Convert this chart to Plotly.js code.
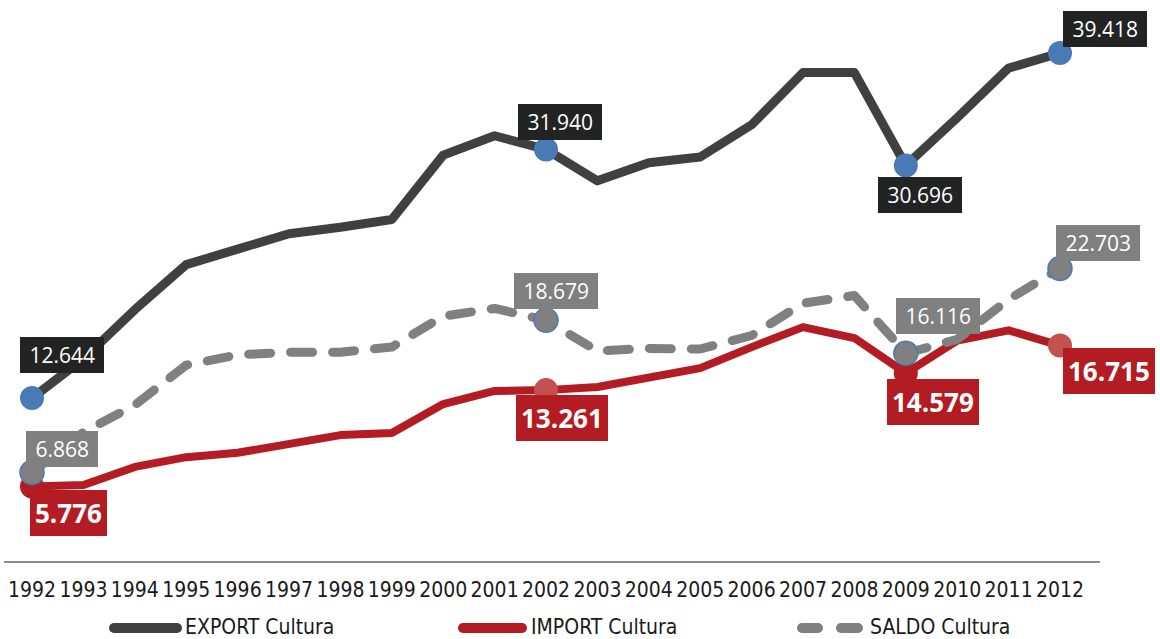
<!DOCTYPE html>
<html>
<head>
<meta charset="utf-8">
<script src="https://cdn.plot.ly/plotly-3.0.1.min.js"></script>
<style>
  html, body { margin: 0; padding: 0; background: #fff; }
  #chart { width: 1160px; height: 639px; }
  .js-line { stroke-linecap: round; stroke-linejoin: round; }
  .shapelayer path { stroke-linecap: round; }
</style>
</head>
<body>
<div id="chart"></div>
<script>
// ---- data ----
const years = [1992, 1993, 1994, 1995, 1996, 1997, 1998, 1999, 2000, 2001, 2002,
               2003, 2004, 2005, 2006, 2007, 2008, 2009, 2010, 2011, 2012];
const exportCultura = [12.644, 15.7, 19.5, 23.0, 24.2, 25.4, 25.9, 26.5, 31.5, 33.0, 31.940,
                       29.5, 30.9, 31.35, 33.85, 37.9, 37.9, 30.696, 34.4, 38.25, 39.418];
const importCultura = [5.776, 5.9, 7.3, 8.06, 8.4, 9.07, 9.77, 9.93, 12.18, 13.2, 13.261,
                       13.5, 14.25, 14.97, 16.6, 18.15, 17.3, 14.579, 17.1, 17.9, 16.715];
const saldoCultura = [6.868, 10.0, 12.1, 15.2, 16.0, 16.2, 16.2, 16.6, 19.0, 19.6, 18.679,
                      16.3, 16.5, 16.45, 17.5, 20.0, 20.6, 16.116, 17.2, 20.3, 22.703];
const labelYears = [1992, 2002, 2009, 2012];
const seriesNames = ['EXPORT Cultura', 'IMPORT Cultura', 'SALDO Cultura'];

// ---- geometry helpers (style) ----
const M = {l: 4, r: 60, t: 5, b: 78};
const W = 1160, H = 639;
const pw = W - M.l - M.r, ph = H - M.t - M.b;
const px2x = px => (px - M.l) / pw;
const py2y = py => (H - M.b - py) / ph;

const markerSizes = years.map(y => labelYears.includes(y) ? 24 : 0);
const importMarkerColors = years.map(y => (y === 2002 || y === 2012) ? '#c1524f' : '#b31c23');

const traces = [
  {
    x: years, y: exportCultura, name: seriesNames[0], type: 'scatter', mode: 'lines+markers',
    line: {color: '#404040', width: 9},
    marker: {size: markerSizes, opacity: 1, color: '#4a7ab6', line: {width: 0}},
    hoverinfo: 'x+y'
  },
  {
    x: years, y: importCultura, name: seriesNames[1], type: 'scatter', mode: 'lines+markers',
    line: {color: '#b31c23', width: 8},
    marker: {size: markerSizes, opacity: 1, color: importMarkerColors, line: {width: 0}},
    hoverinfo: 'x+y'
  },
  {
    x: years, y: saldoCultura, name: seriesNames[2], type: 'scatter', mode: 'lines+markers',
    line: {color: '#808080', width: 9, dash: '22px,20px'},
    marker: {size: markerSizes, opacity: 1, color: '#808080', line: {width: 1.5, color: '#4a7ab6'}},
    hoverinfo: 'x+y'
  }
];

// label offsets in px (dx right, dy up) per labelled year
const labelStyle = [
  {vals: exportCultura, bg: '#222424', bold: false, off: {1992: [30, 43], 2002: [14, 27], 2009: [14, -30], 2012: [45, 24]}},
  {vals: saldoCultura, bg: '#808080', bold: false, off: {1992: [30, 24], 2002: [10, 29], 2009: [32, 37], 2012: [38, 25]}},
  {vals: importCultura, bg: '#b31c23', bold: true, off: {1992: [36, -26], 2002: [16, -28], 2009: [27, -29], 2012: [49, -25]}}
];

const annotations = [];
labelStyle.forEach(s => {
  labelYears.forEach(yr => {
    const i = years.indexOf(yr);
    const v = s.vals[i];
    const o = s.off[yr];
    annotations.push({
      x: yr, y: v, xref: 'x', yref: 'y', showarrow: false,
      text: s.bold ? v.toFixed(3) : '\u00A0' + v.toFixed(3) + '\u00A0',
      xanchor: 'center', yanchor: 'middle', xshift: o[0], yshift: o[1],
      bgcolor: s.bg, borderpad: s.bold ? 5 : 4, borderwidth: 0,
      font: {family: 'Open Sans, Noto Sans, sans-serif', size: s.bold ? 26 : 21, color: '#ffffff', weight: s.bold ? 700 : 400}
    });
  });
});

// manual legend
const condensed = 'DejaVu Sans Condensed, Liberation Sans Narrow, DejaVu Sans, sans-serif';
const legendFont = {family: condensed, size: 21, color: '#1a1a1a'};
const legendY = 628;
const shapes = [
  {type: 'line', xref: 'paper', yref: 'paper', x0: px2x(114), x1: px2x(177), y0: py2y(legendY), y1: py2y(legendY), line: {color: '#404040', width: 10}},
  {type: 'line', xref: 'paper', yref: 'paper', x0: px2x(463), x1: px2x(522), y0: py2y(legendY), y1: py2y(legendY), line: {color: '#b31c23', width: 10}},
  {type: 'line', xref: 'paper', yref: 'paper', x0: px2x(802), x1: px2x(818), y0: py2y(legendY), y1: py2y(legendY), line: {color: '#808080', width: 10}},
  {type: 'line', xref: 'paper', yref: 'paper', x0: px2x(841), x1: px2x(858), y0: py2y(legendY), y1: py2y(legendY), line: {color: '#808080', width: 10}}
];
[[seriesNames[0], 183], [seriesNames[1], 529], [seriesNames[2], 868]].forEach(([t, x]) => {
  annotations.push({
    xref: 'paper', yref: 'paper', x: px2x(x), y: py2y(legendY - 1), text: t, showarrow: false,
    xanchor: 'left', yanchor: 'middle', font: legendFont
  });
});

const layout = {
  width: W, height: H,
  margin: M,
  paper_bgcolor: '#ffffff', plot_bgcolor: '#ffffff',
  showlegend: false,
  xaxis: {
    range: [1991.455, 2012.778],
    tickmode: 'array', tickvals: years, ticktext: years.map(String),
    tickangle: 0, ticks: '', showgrid: false, zeroline: false,
    showline: true, linecolor: '#8c8c8c', linewidth: 2,
    ticklabelstandoff: 9,
    tickfont: {family: condensed, size: 21, color: '#1a1a1a'},
    fixedrange: true
  },
  yaxis: {
    range: [0, 43.147], visible: false, showgrid: false, zeroline: false, fixedrange: true
  },
  annotations: annotations,
  shapes: shapes
};

Plotly.newPlot('chart', traces, layout, {displayModeBar: false, staticPlot: true});
</script>
</body>
</html>
